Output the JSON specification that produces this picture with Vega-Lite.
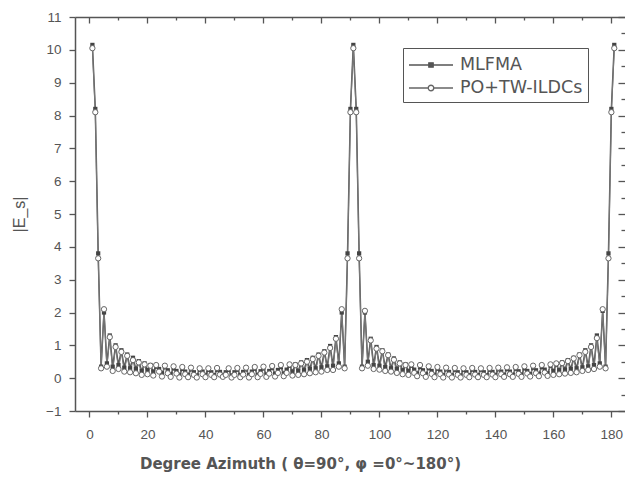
{
  "$schema": "https://vega.github.io/schema/vega-lite/v6.json",
  "width": 550,
  "height": 394,
  "autosize": {"type": "none"},
  "padding": {"left": 75, "top": 17, "right": 0, "bottom": 75},
  "background": "white",
  "config": {
    "view": {"stroke": null},
    "axis": {
      "grid": false,
      "domainColor": "#555",
      "domainWidth": 1.5,
      "tickColor": "#555",
      "tickWidth": 1.3,
      "labelColor": "#555",
      "labelFont": "Liberation Sans",
      "labelFontSize": 13.5,
      "titleColor": "#555",
      "titleFont": "DejaVu Sans",
      "titleFontSize": 15,
      "titleFontWeight": "bold"
    }
  },
  "data": {"values": [
    {"x":1,"m":10.15,"p":10.05},{"x":2,"m":8.2,"p":8.1},{"x":3,"m":3.8,"p":3.65},{"x":4,"m":0.35,"p":0.3},{"x":5,"m":2.0,"p":2.1},
    {"x":6,"m":0.45,"p":0.35},{"x":7,"m":1.3,"p":1.25},{"x":8,"m":0.35,"p":0.22},{"x":9,"m":1.0,"p":0.95},{"x":10,"m":0.4,"p":0.28},
    {"x":11,"m":0.85,"p":0.8},{"x":12,"m":0.32,"p":0.2},{"x":13,"m":0.72,"p":0.68},{"x":14,"m":0.3,"p":0.18},{"x":15,"m":0.62,"p":0.55},
    {"x":16,"m":0.28,"p":0.15},{"x":17,"m":0.52,"p":0.48},{"x":18,"m":0.22,"p":0.1},{"x":19,"m":0.45,"p":0.42},{"x":20,"m":0.25,"p":0.12},
    {"x":21,"m":0.4,"p":0.38},{"x":22,"m":0.2,"p":0.08},{"x":23,"m":0.35,"p":0.4},{"x":24,"m":0.28,"p":0.2},{"x":25,"m":0.15,"p":0.05},
    {"x":26,"m":0.34,"p":0.38},{"x":27,"m":0.24,"p":0.15},{"x":28,"m":0.12,"p":0.04},{"x":29,"m":0.3,"p":0.36},{"x":30,"m":0.22,"p":0.14},
    {"x":31,"m":0.1,"p":0.02},{"x":32,"m":0.28,"p":0.34},{"x":33,"m":0.2,"p":0.12},{"x":34,"m":0.1,"p":0.03},{"x":35,"m":0.27,"p":0.32},
    {"x":36,"m":0.18,"p":0.1},{"x":37,"m":0.08,"p":0.02},{"x":38,"m":0.26,"p":0.3},{"x":39,"m":0.2,"p":0.12},{"x":40,"m":0.1,"p":0.03},
    {"x":41,"m":0.25,"p":0.3},{"x":42,"m":0.18,"p":0.1},{"x":43,"m":0.09,"p":0.03},{"x":44,"m":0.26,"p":0.31},{"x":45,"m":0.19,"p":0.11},
    {"x":46,"m":0.1,"p":0.04},{"x":47,"m":0.18,"p":0.1},{"x":48,"m":0.25,"p":0.3},{"x":49,"m":0.08,"p":0.02},{"x":50,"m":0.18,"p":0.1},
    {"x":51,"m":0.26,"p":0.31},{"x":52,"m":0.09,"p":0.03},{"x":53,"m":0.19,"p":0.11},{"x":54,"m":0.27,"p":0.32},{"x":55,"m":0.09,"p":0.02},
    {"x":56,"m":0.2,"p":0.12},{"x":57,"m":0.29,"p":0.34},{"x":58,"m":0.1,"p":0.03},{"x":59,"m":0.21,"p":0.13},{"x":60,"m":0.3,"p":0.35},
    {"x":61,"m":0.11,"p":0.04},{"x":62,"m":0.22,"p":0.14},{"x":63,"m":0.32,"p":0.37},{"x":64,"m":0.13,"p":0.05},{"x":65,"m":0.25,"p":0.16},
    {"x":66,"m":0.34,"p":0.4},{"x":67,"m":0.14,"p":0.06},{"x":68,"m":0.26,"p":0.16},{"x":69,"m":0.38,"p":0.42},{"x":70,"m":0.2,"p":0.08},
    {"x":71,"m":0.42,"p":0.4},{"x":72,"m":0.22,"p":0.1},{"x":73,"m":0.48,"p":0.45},{"x":74,"m":0.24,"p":0.12},{"x":75,"m":0.55,"p":0.5},
    {"x":76,"m":0.28,"p":0.15},{"x":77,"m":0.62,"p":0.58},{"x":78,"m":0.3,"p":0.18},{"x":79,"m":0.72,"p":0.68},{"x":80,"m":0.33,"p":0.2},
    {"x":81,"m":0.82,"p":0.78},{"x":82,"m":0.36,"p":0.25},{"x":83,"m":0.98,"p":0.92},{"x":84,"m":0.38,"p":0.25},{"x":85,"m":1.25,"p":1.2},
    {"x":86,"m":0.45,"p":0.35},{"x":87,"m":2.0,"p":2.1},{"x":88,"m":0.35,"p":0.3},{"x":89,"m":3.8,"p":3.65},{"x":90,"m":8.2,"p":8.1},
    {"x":91,"m":10.15,"p":10.05},
    {"x":92,"m":8.2,"p":8.1},{"x":93,"m":3.8,"p":3.65},{"x":94,"m":0.35,"p":0.3},{"x":95,"m":2.0,"p":2.05},{"x":96,"m":0.5,"p":0.38},
    {"x":97,"m":1.2,"p":1.15},{"x":98,"m":0.4,"p":0.28},{"x":99,"m":0.95,"p":0.9},{"x":100,"m":0.38,"p":0.26},{"x":101,"m":0.85,"p":0.82},
    {"x":102,"m":0.34,"p":0.22},{"x":103,"m":0.72,"p":0.7},{"x":104,"m":0.3,"p":0.2},{"x":105,"m":0.6,"p":0.56},{"x":106,"m":0.28,"p":0.16},
    {"x":107,"m":0.48,"p":0.45},{"x":108,"m":0.24,"p":0.12},{"x":109,"m":0.42,"p":0.4},{"x":110,"m":0.22,"p":0.1},{"x":111,"m":0.38,"p":0.42},
    {"x":112,"m":0.26,"p":0.16},{"x":113,"m":0.14,"p":0.06},{"x":114,"m":0.34,"p":0.4},{"x":115,"m":0.24,"p":0.15},{"x":116,"m":0.12,"p":0.04},
    {"x":117,"m":0.31,"p":0.36},{"x":118,"m":0.22,"p":0.13},{"x":119,"m":0.1,"p":0.03},{"x":120,"m":0.29,"p":0.34},{"x":121,"m":0.2,"p":0.12},
    {"x":122,"m":0.09,"p":0.02},{"x":123,"m":0.27,"p":0.32},{"x":124,"m":0.19,"p":0.11},{"x":125,"m":0.08,"p":0.02},{"x":126,"m":0.26,"p":0.31},
    {"x":127,"m":0.18,"p":0.1},{"x":128,"m":0.08,"p":0.02},{"x":129,"m":0.25,"p":0.3},{"x":130,"m":0.18,"p":0.1},{"x":131,"m":0.09,"p":0.03},
    {"x":132,"m":0.26,"p":0.31},{"x":133,"m":0.19,"p":0.11},{"x":134,"m":0.09,"p":0.03},{"x":135,"m":0.26,"p":0.3},{"x":136,"m":0.18,"p":0.1},
    {"x":137,"m":0.09,"p":0.03},{"x":138,"m":0.26,"p":0.31},{"x":139,"m":0.19,"p":0.11},{"x":140,"m":0.1,"p":0.03},{"x":141,"m":0.27,"p":0.32},
    {"x":142,"m":0.2,"p":0.12},{"x":143,"m":0.1,"p":0.04},{"x":144,"m":0.28,"p":0.33},{"x":145,"m":0.2,"p":0.12},{"x":146,"m":0.1,"p":0.04},
    {"x":147,"m":0.29,"p":0.34},{"x":148,"m":0.21,"p":0.13},{"x":149,"m":0.11,"p":0.04},{"x":150,"m":0.3,"p":0.36},{"x":151,"m":0.22,"p":0.14},
    {"x":152,"m":0.12,"p":0.05},{"x":153,"m":0.32,"p":0.38},{"x":154,"m":0.24,"p":0.15},{"x":155,"m":0.13,"p":0.06},{"x":156,"m":0.34,"p":0.4},
    {"x":157,"m":0.26,"p":0.17},{"x":158,"m":0.15,"p":0.07},{"x":159,"m":0.38,"p":0.42},{"x":160,"m":0.22,"p":0.1},{"x":161,"m":0.42,"p":0.45},
    {"x":162,"m":0.24,"p":0.12},{"x":163,"m":0.48,"p":0.46},{"x":164,"m":0.26,"p":0.14},{"x":165,"m":0.55,"p":0.52},{"x":166,"m":0.28,"p":0.16},
    {"x":167,"m":0.62,"p":0.6},{"x":168,"m":0.3,"p":0.18},{"x":169,"m":0.72,"p":0.7},{"x":170,"m":0.33,"p":0.22},{"x":171,"m":0.85,"p":0.8},
    {"x":172,"m":0.36,"p":0.25},{"x":173,"m":1.0,"p":0.95},{"x":174,"m":0.4,"p":0.28},{"x":175,"m":1.3,"p":1.22},{"x":176,"m":0.45,"p":0.35},
    {"x":177,"m":2.05,"p":2.1},{"x":178,"m":0.35,"p":0.3},{"x":179,"m":3.8,"p":3.65},{"x":180,"m":8.2,"p":8.1},{"x":181,"m":10.15,"p":10.05}
  ]},
  "resolve": {"axis": {"x": "independent", "y": "independent"}},
  "layer": [
    {
      "mark": {"type": "line", "color": "#555", "strokeWidth": 1.5},
      "encoding": {
        "x": {"field": "x", "type": "quantitative", "scale": {"domain": [-5, 184.7], "nice": false, "zero": false},
          "axis": {"orient": "bottom", "values": [0,10,20,30,40,50,60,70,80,90,100,110,120,130,140,150,160,170,180],
            "labelExpr": "datum.value % 20 == 0 ? datum.label : ''",
            "tickSize": {"condition": {"test": "datum.value % 20 == 0", "value": 6}, "value": 3},
            "labelPadding": 10, "labelFlush": false, "labelOverlap": false,
            "title": "Degree Azimuth ( θ=90°, φ =0°~180°)", "titlePadding": 16, "titleX": 225, "titleAlign": "center"}},
        "y": {"field": "m", "type": "quantitative", "scale": {"domain": [-1, 11], "nice": false, "zero": false},
          "axis": {"orient": "left", "values": [-1,-0.5,0,0.5,1,1.5,2,2.5,3,3.5,4,4.5,5,5.5,6,6.5,7,7.5,8,8.5,9,9.5,10,10.5,11],
            "format": "d",
            "labelExpr": "datum.value % 1 == 0 ? datum.label : ''",
            "tickSize": {"condition": {"test": "datum.value % 1 == 0", "value": 6}, "value": 3},
            "labelPadding": 8, "labelFlush": false, "labelOverlap": false,
            "title": "|E_s|", "titlePadding": 18, "titleFont": "Liberation Sans", "titleFontWeight": "normal", "titleFontSize": 16}}
      }
    },
    {
      "mark": {"type": "line", "color": "#777", "strokeWidth": 1.1},
      "encoding": {
        "x": {"field": "x", "type": "quantitative", "scale": {"domain": [-5, 184.7], "nice": false, "zero": false},
          "axis": {"orient": "top", "values": [0,10,20,30,40,50,60,70,80,90,100,110,120,130,140,150,160,170,180],
            "labels": false, "title": null,
            "tickSize": {"condition": {"test": "datum.value % 20 == 0", "value": -6}, "value": -3}}},
        "y": {"field": "p", "type": "quantitative", "scale": {"domain": [-1, 11], "nice": false, "zero": false},
          "axis": {"orient": "right", "values": [-1,-0.5,0,0.5,1,1.5,2,2.5,3,3.5,4,4.5,5,5.5,6,6.5,7,7.5,8,8.5,9,9.5,10,10.5,11],
            "labels": false, "title": null, "domain": false,
            "tickSize": {"condition": {"test": "datum.value % 1 == 0", "value": -7}, "value": -4}}}
      }
    },
    {
      "mark": {"type": "point", "shape": "square", "filled": true, "color": "#444", "size": 18, "opacity": 1},
      "encoding": {
        "x": {"field": "x", "type": "quantitative", "axis": null},
        "y": {"field": "m", "type": "quantitative", "axis": null}
      }
    },
    {
      "mark": {"type": "point", "shape": "circle", "filled": false, "fill": "white", "fillOpacity": 1, "stroke": "#666", "strokeWidth": 1, "size": 28, "opacity": 1},
      "encoding": {
        "x": {"field": "x", "type": "quantitative", "axis": null},
        "y": {"field": "p", "type": "quantitative", "axis": null}
      }
    },
    {
      "data": {"values": [{"series": "MLFMA"}, {"series": "PO+TW-ILDCs"}]},
      "transform": [{"filter": "false"}],
      "mark": {"type": "point", "filled": false, "strokeWidth": 1.3, "opacity": 1},
      "encoding": {
        "shape": {"field": "series", "type": "nominal",
          "scale": {"domain": ["MLFMA", "PO+TW-ILDCs"],
            "range": ["M-1,0H3M0.8,-0.2H1.2V0.2H0.8Z", "M-1,0H0.75M1.25,0H3M0.75,0A0.25,0.25 0 1,0 1.25,0A0.25,0.25 0 1,0 0.75,0"]},
          "legend": {"orient": "none", "legendX": 328, "legendY": 31, "title": null,
            "strokeColor": "#555", "padding": 5, "symbolSize": 484, "symbolStrokeWidth": 1.3,
            "labelFont": "DejaVu Sans", "labelFontSize": 17.5, "labelColor": "#555", "labelOffset": 28, "rowPadding": 2}},
        "fill": {"field": "series", "type": "nominal",
          "scale": {"domain": ["MLFMA", "PO+TW-ILDCs"], "range": ["#555", "white"]},
          "legend": {"orient": "none", "legendX": 328, "legendY": 31, "title": null,
            "strokeColor": "#555", "padding": 5, "symbolSize": 484, "symbolStrokeWidth": 1.3,
            "labelFont": "DejaVu Sans", "labelFontSize": 17.5, "labelColor": "#555", "labelOffset": 28, "rowPadding": 2}},
        "stroke": {"field": "series", "type": "nominal",
          "scale": {"domain": ["MLFMA", "PO+TW-ILDCs"], "range": ["#555", "#666"]},
          "legend": {"orient": "none", "legendX": 328, "legendY": 31, "title": null,
            "strokeColor": "#555", "padding": 5, "symbolSize": 484, "symbolStrokeWidth": 1.3,
            "labelFont": "DejaVu Sans", "labelFontSize": 17.5, "labelColor": "#555", "labelOffset": 28, "rowPadding": 2}}
      }
    }
  ]
}
